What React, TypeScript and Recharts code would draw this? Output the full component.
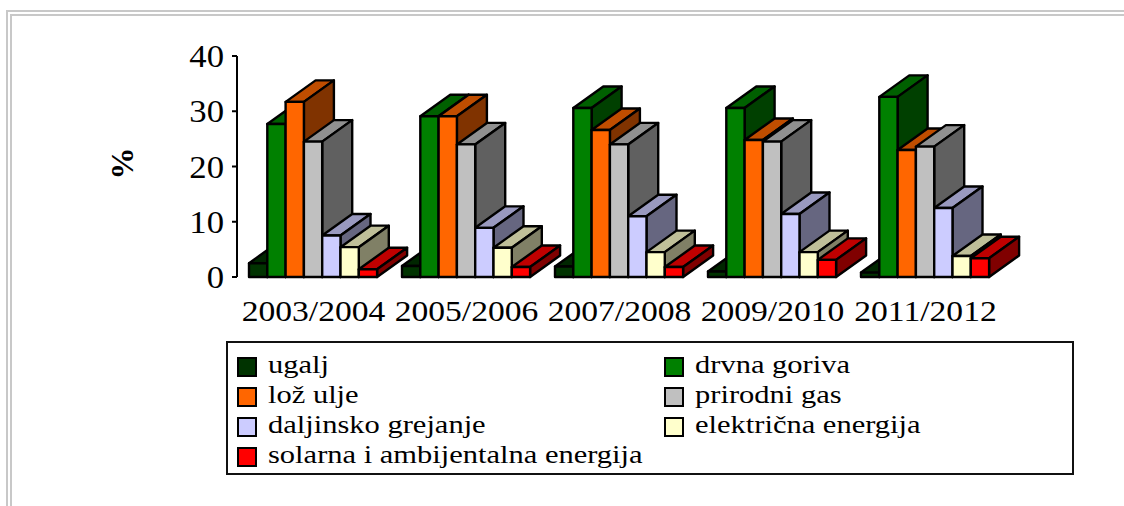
import { BarChart, Bar, XAxis, YAxis, Legend } from 'recharts'

const PERIODS = ['2003/2004', '2005/2006', '2007/2008', '2009/2010', '2011/2012']
const UGALJ = [2.5, 2, 1.9, 1, 0.8]
const DRVNA = [27.7, 29.1, 30.6, 30.6, 32.6]
const LOZ = [31.7, 29.1, 26.6, 24.8, 23]
const GAS = [24.5, 24, 24, 24.5, 23.6]
const DALJINSKO = [7.5, 8.9, 11, 11.4, 12.5]
const STRUJA = [5.4, 5.3, 4.5, 4.5, 3.8]
const SOLARNA = [1.4, 1.8, 1.8, 3.1, 3.4]
const Y_TICKS = [0, 10, 20, 30, 40]

const SERIES = [
  { key: 'ugalj', values: UGALJ, front: '#003300', top: '#002600', side: '#001a00' },
  { key: 'drvna goriva', values: DRVNA, front: '#008000', top: '#006000', side: '#004000' },
  { key: 'lož ulje', values: LOZ, front: '#ff6600', top: '#bf4d00', side: '#803300' },
  { key: 'prirodni gas', values: GAS, front: '#c0c0c0', top: '#909090', side: '#606060' },
  { key: 'daljinsko grejanje', values: DALJINSKO, front: '#ccccff', top: '#9999bf', side: '#666680' },
  { key: 'električna energija', values: STRUJA, front: '#ffffcc', top: '#bfbf99', side: '#808066' },
  { key: 'solarna i ambijentalna energija', values: SOLARNA, front: '#ff0000', top: '#bf0000', side: '#800000' },
]

const rows = PERIODS.map((period, i) => {
  const row: Record<string, string | number> = { period }
  SERIES.forEach((s) => (row[s.key] = s.values[i]))
  return row
})

const FONT = '"Liberation Serif", serif'
const DX = 30
const DY = 21.5

// stara Excel 3D kolona: prednja strana, vrh i desni bok
function Box3D({ x, y, width, height, front, top, side }: any) {
  const r = x + width
  const b = y + height
  return (
    <g stroke="#000" strokeWidth={2.4} strokeLinejoin="round">
      <polygon points={`${x},${y} ${x + DX},${y - DY} ${r + DX},${y - DY} ${r},${y}`} fill={top} />
      <polygon points={`${r},${y} ${r + DX},${y - DY} ${r + DX},${b - DY} ${r},${b}`} fill={side} />
      <rect x={x} y={y} width={width} height={height} fill={front} />
    </g>
  )
}

// tekst je u originalu malo razvucen po sirini
function XTick({ x, y, payload }: any) {
  return (
    <text transform={`translate(${x},${y + 44}) scale(1.12,1)`} textAnchor="middle" fontFamily={FONT} fontSize={30} fill="#000">
      {payload.value}
    </text>
  )
}

function YTick({ x, y, payload }: any) {
  return (
    <text transform={`translate(${x},${y + 11}) scale(1.12,1)`} textAnchor="end" fontFamily={FONT} fontSize={31} fill="#000">
      {payload.value}
    </text>
  )
}

function LegendBox() {
  return (
    <div
      style={{
        boxSizing: 'border-box',
        width: 848,
        height: 134,
        border: '2px solid #111',
        background: '#fff',
        padding: '9px 0 0 9px',
        display: 'grid',
        gridTemplateColumns: '427px 1fr',
        gridAutoRows: 30,
        fontFamily: FONT,
        fontSize: 26,
        color: '#000',
      }}
    >
      {SERIES.map((s) => (
        <div key={s.key} style={{ display: 'flex', alignItems: 'center', whiteSpace: 'nowrap', lineHeight: '30px' }}>
          <span
            style={{
              boxSizing: 'border-box',
              width: 20,
              height: 20,
              marginRight: 11,
              border: '2px solid #000',
              background: s.front,
              flex: 'none',
            }}
          />
          <span style={{ display: 'inline-block', transform: 'translateY(-2px) scaleX(1.173)', transformOrigin: 'left center' }}>{s.key}</span>
        </div>
      ))}
    </div>
  )
}

export default function App() {
  return (
    <div style={{ position: 'absolute', left: 0, top: 0, width: 1124, height: 506, overflow: 'hidden', background: '#fff' }}>
      <div style={{ position: 'absolute', left: 6, top: 10, right: 0, bottom: 0, borderLeft: '2px solid #c8c8c8', borderTop: '2px solid #c8c8c8' }} />
      <div style={{ position: 'absolute', left: 10, top: 14, right: 0, bottom: 0, borderLeft: '2px solid #c8c8c8', borderTop: '2px solid #c8c8c8' }} />
      <div style={{ position: 'absolute', left: 0, top: 0 }}>
        <BarChart
          width={1124}
          height={506}
          data={rows}
          margin={{ top: 56, right: 122, left: 0, bottom: 169 }}
          barSize={18.3}
          barGap={0}
        >
          <XAxis
            dataKey="period"
            height={60}
            axisLine={false}
            tickLine={false}
            tickSize={0}
            tickMargin={0}
            interval={0}
            tick={<XTick />}
          />
          <YAxis
            width={237}
            domain={[0, 40]}
            ticks={Y_TICKS}
            tickSize={5}
            tickMargin={8}
            axisLine={{ stroke: '#000', strokeWidth: 2 }}
            tickLine={{ stroke: '#000', strokeWidth: 2 }}
            tick={<YTick />}
            label={{
              value: '%',
              angle: -90,
              position: 'insideLeft',
              offset: 122,
              dy: 13,
              style: { fontFamily: FONT, fontSize: 32, fontWeight: 'bold', fill: '#000' },
            }}
          />
          <Legend
            layout="horizontal"
            align="center"
            verticalAlign="middle"
            width={848}
            wrapperStyle={{ left: 226, top: 341, width: 848 }}
            content={() => <LegendBox />}
          />
          {SERIES.map((s) => (
            <Bar
              key={s.key}
              dataKey={s.key}
              isAnimationActive={false}
              fill={s.front}
              shape={(p: any) => <Box3D {...p} front={s.front} top={s.top} side={s.side} />}
            />
          ))}
        </BarChart>
      </div>
    </div>
  )
}
